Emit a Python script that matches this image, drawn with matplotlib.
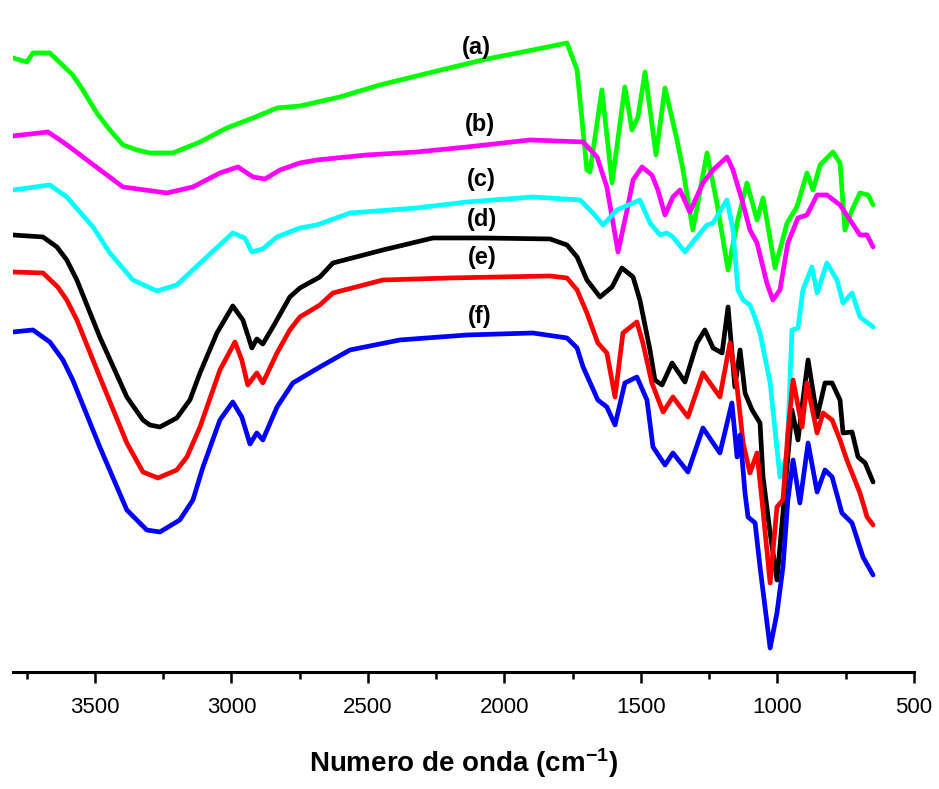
import matplotlib
matplotlib.use('Agg')

import numpy as np
import matplotlib.pyplot as plt
from matplotlib.ticker import MultipleLocator

# wavenumber (cm-1) and offset transmittance (arb. units)
wn_a = [3800, 3749, 3727, 3665, 3581, 3544, 3493, 3445, 3397, 3346, 3299, 3214, 3115, 3017,
        2921, 2833, 2749, 2603, 2456, 2262, 2064, 1896, 1771, 1734, 1698, 1687, 1643, 1606,
        1559, 1533, 1511, 1485, 1445, 1412, 1368, 1346, 1310, 1258, 1222, 1181, 1148, 1112,
        1075, 1053, 1009, 965, 929, 892, 870, 844, 797, 771, 753, 727, 698, 668, 650]
t_a = [614, 610, 619, 619, 597, 582, 559, 542, 527, 522, 519, 519, 530, 544,
       554, 564, 566, 575, 587, 600, 613, 622, 629, 602, 502, 500, 582, 489,
       585, 542, 555, 600, 517, 584, 532, 502, 442, 519, 469, 402, 449, 489,
       452, 474, 404, 449, 465, 499, 482, 507, 520, 509, 442, 462, 479, 477, 467]

wn_b = [3800, 3672, 3628, 3592, 3529, 3456, 3397, 3236, 3141, 3042, 2976, 2921, 2877, 2822,
        2749, 2687, 2504, 2321, 2137, 1907, 1712, 1661, 1625, 1584, 1551, 1529, 1496, 1460,
        1438, 1412, 1383, 1357, 1321, 1273, 1236, 1185, 1163, 1130, 1101, 1075, 1039, 1017,
        991, 962, 925, 892, 855, 819, 771, 727, 698, 672, 650]
t_b = [536, 540, 532, 525, 512, 497, 485, 479, 485, 499, 505, 495, 493, 502,
       509, 512, 517, 520, 525, 532, 530, 515, 485, 420, 462, 492, 505, 497,
       482, 457, 475, 482, 460, 489, 502, 515, 502, 472, 442, 429, 389, 372,
       382, 429, 454, 457, 477, 477, 467, 449, 437, 437, 425]

wn_c = [3800, 3665, 3603, 3507, 3445, 3361, 3273, 3200, 3090, 2995, 2951, 2925, 2885, 2833,
        2749, 2687, 2566, 2321, 2137, 1896, 1723, 1676, 1639, 1588, 1504, 1467, 1430, 1405,
        1383, 1339, 1295, 1258, 1236, 1185, 1163, 1145, 1126, 1101, 1082, 1064, 1027, 991,
        965, 947, 925, 907, 874, 855, 819, 782, 760, 727, 698, 650]
t_c = [482, 487, 475, 445, 419, 392, 381, 387, 415, 439, 434, 420, 423, 435,
       444, 447, 459, 464, 470, 475, 472, 459, 447, 462, 472, 449, 437, 439,
       435, 420, 435, 447, 449, 472, 442, 382, 372, 367, 354, 339, 289, 195,
       217, 342, 344, 382, 405, 379, 409, 392, 369, 379, 355, 345]

wn_d = [3800, 3690, 3639, 3603, 3566, 3482, 3383, 3324, 3299, 3262, 3200, 3152, 3115, 3053,
        2995, 2958, 2925, 2907, 2885, 2848, 2786, 2749, 2676, 2628, 2445, 2262, 2079, 1833,
        1771, 1734, 1698, 1650, 1606, 1570, 1529, 1504, 1467, 1449, 1423, 1386, 1339, 1295,
        1266, 1236, 1203, 1181, 1156, 1137, 1119, 1093, 1064, 1053, 1027, 1002, 980, 947,
        925, 907, 888, 855, 826, 800, 771, 760, 727, 705, 679, 650]
t_d = [437, 435, 425, 412, 392, 335, 275, 252, 247, 245, 254, 272, 299, 339,
       366, 352, 324, 333, 328, 345, 375, 384, 395, 409, 422, 434, 434, 433,
       427, 415, 392, 375, 385, 404, 395, 372, 322, 292, 287, 309, 290, 329,
       342, 324, 319, 365, 285, 322, 279, 262, 249, 195, 139, 92, 159, 262,
       232, 272, 312, 255, 289, 289, 272, 239, 240, 215, 209, 190]

wn_e = [3800, 3690, 3636, 3603, 3566, 3482, 3383, 3324, 3269, 3200, 3163, 3115, 3042, 2987,
        2962, 2940, 2907, 2885, 2833, 2786, 2749, 2676, 2628, 2445, 2200, 2017, 1833, 1771,
        1734, 1698, 1658, 1625, 1595, 1566, 1515, 1493, 1460, 1419, 1383, 1328, 1273, 1211,
        1174, 1148, 1126, 1101, 1075, 1057, 1027, 1002, 980, 962, 943, 910, 892, 855,
        833, 800, 771, 746, 698, 672, 650]
t_e = [400, 399, 385, 372, 352, 295, 229, 200, 194, 202, 215, 245, 302, 330,
       312, 287, 299, 289, 319, 342, 355, 367, 379, 392, 394, 395, 396, 394,
       382, 359, 329, 319, 275, 339, 350, 329, 289, 260, 275, 255, 299, 275,
       329, 285, 229, 199, 219, 172, 89, 165, 172, 239, 292, 245, 289, 239,
       259, 252, 232, 212, 179, 155, 147]

wn_f = [3800, 3727, 3665, 3617, 3581, 3482, 3383, 3310, 3262, 3189, 3141, 3104, 3042, 2995,
        2962, 2932, 2907, 2885, 2833, 2775, 2676, 2566, 2383, 2137, 1896, 1771, 1734, 1712,
        1658, 1625, 1595, 1559, 1515, 1478, 1456, 1412, 1383, 1328, 1273, 1211, 1167, 1148,
        1137, 1119, 1108, 1082, 1064, 1027, 1002, 980, 962, 943, 918, 888, 855, 826,
        800, 764, 727, 687, 650]
t_f = [340, 342, 330, 312, 292, 225, 162, 142, 140, 152, 172, 205, 252, 270,
       255, 228, 239, 232, 265, 289, 305, 322, 332, 337, 339, 334, 324, 305,
       272, 265, 247, 289, 295, 272, 225, 207, 219, 200, 244, 219, 269, 215,
       237, 179, 155, 149, 105, 24, 59, 105, 172, 212, 169, 229, 180, 202,
       195, 159, 149, 115, 97]

labels = ['(a)', '(b)', '(c)', '(d)', '(e)', '(f)']
label_wn = [2101, 2090, 2083, 2083, 2083, 2090]
label_t = [624, 547, 492, 452, 414, 355]
colors = ['#00ff00', '#ff00ff', '#00ffff', '#000000', '#ff0000', '#0000ff']

plt.rcParams['mathtext.fontset'] = 'custom'
plt.rcParams['mathtext.rm'] = 'Liberation Sans:bold'
plt.rcParams['mathtext.default'] = 'rm'

fig = plt.figure(figsize=(9.39, 7.89), dpi=100)
ax = fig.add_axes([0.0138, 0.1483, 0.9596, 0.8264])

series = [(wn_a, t_a), (wn_b, t_b), (wn_c, t_c), (wn_d, t_d), (wn_e, t_e), (wn_f, t_f)]
for (wn, t), c in zip(series, colors):
    ax.plot(wn, t, color=c, lw=3.4, solid_joinstyle='round', solid_capstyle='round')

for lab, x, y in zip(labels, label_wn, label_t):
    ax.text(x, y, lab, ha='center', va='center', fontsize=17, fontweight='bold',
            family=['Liberation Sans', 'DejaVu Sans'])

ax.set_xlim(3800, 500)
ax.set_ylim(0, 652)

for s in ['left', 'right', 'top']:
    ax.spines[s].set_visible(False)
ax.spines['bottom'].set_linewidth(2.2)
ax.set_yticks([])
ax.xaxis.set_major_locator(MultipleLocator(500))
ax.xaxis.set_minor_locator(MultipleLocator(250))
ax.tick_params(axis='x', which='major', length=8, width=1.8, direction='out', pad=10)
ax.tick_params(axis='x', which='minor', length=5, width=1.8, direction='out')
for lbl in ax.get_xticklabels():
    lbl.set_family(['Liberation Sans', 'DejaVu Sans'])
    lbl.set_fontsize(16)

ax.set_xlabel(r'Numero de onda (cm$^{-1}$)', fontsize=20, fontweight='bold',
              family=['Liberation Sans', 'DejaVu Sans'], labelpad=20)

fig.savefig('out.png', dpi=100, facecolor='white')
